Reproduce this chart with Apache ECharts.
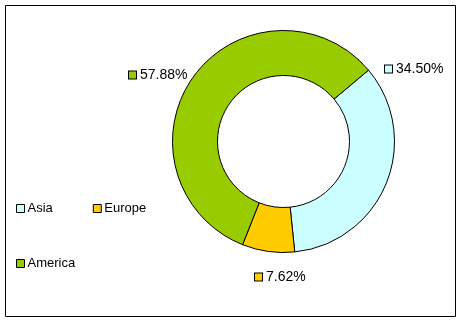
<!DOCTYPE html>
<html>
<head>
<meta charset="utf-8">
<script src="https://cdn.jsdelivr.net/npm/echarts@6/dist/echarts.min.js"></script>
<style>html,body{margin:0;padding:0;background:#fff;}#c{width:462px;height:322px;}</style>
</head>
<body>
<div id="c"></div>
<script>
var categories = ['Asia', 'Europe', 'America'];
var values = [34.50, 7.62, 57.88];
var colors = ['#CCFFFF', '#FFCC00', '#99CC00'];

// label anchor positions (layout only)
var labelPos = [[385, 69], [255, 277], [129, 75]];

var chart = echarts.init(document.getElementById('c'), null, {renderer: 'canvas'});
var font = 'Liberation Sans, Arial, sans-serif';

var data = categories.map(function (c, i) {
  return {
    name: c, value: values[i],
    itemStyle: {color: colors[i]},
    label: {
      rich: {
        b: {width: 7, height: 7, backgroundColor: colors[i], borderColor: '#000', borderWidth: 1},
        t: {fontSize: 14, fontFamily: font, color: '#000', padding: [0, 0, 0, 4]}
      }
    }
  };
});

chart.setOption({
  animation: false,
  backgroundColor: '#fff',
  graphic: [{
    type: 'rect', shape: {x: 5.5, y: 5.5, width: 450, height: 311},
    style: {fill: 'none', stroke: '#000', lineWidth: 1}
  }],
  legend: [{
    data: ['Asia', 'Europe'],
    left: 16, top: 202, padding: 0,
    orient: 'horizontal',
    icon: 'rect', itemWidth: 8, itemHeight: 8, itemGap: 40,
    itemStyle: {borderColor: '#000', borderWidth: 1},
    textStyle: {fontSize: 13, fontFamily: font, color: '#000', padding: [0, 0, 0, -2]},
    selectedMode: false
  }, {
    data: ['America'],
    left: 16, top: 257, padding: 0,
    icon: 'rect', itemWidth: 8, itemHeight: 8,
    itemStyle: {borderColor: '#000', borderWidth: 1},
    textStyle: {fontSize: 13, fontFamily: font, color: '#000', padding: [0, 0, 0, -2]},
    selectedMode: false
  }],
  series: [{
    type: 'pie',
    center: [283.5, 141.5],
    radius: [66, 111],
    startAngle: 40,
    clockwise: true,
    avoidLabelOverlap: false,
    itemStyle: {borderColor: '#000', borderWidth: 1},
    emphasis: {disabled: true},
    label: {
      show: true,
      position: 'outside',
      formatter: function (p) { return '{b|}{t|' + p.value.toFixed(2) + '%}'; }
    },
    labelLine: {show: false},
    labelLayout: function (p) {
      var pos = labelPos[p.dataIndex];
      return {x: pos[0], y: pos[1], align: 'left', verticalAlign: 'middle'};
    },
    data: data
  }]
});
</script>
</body>
</html>
